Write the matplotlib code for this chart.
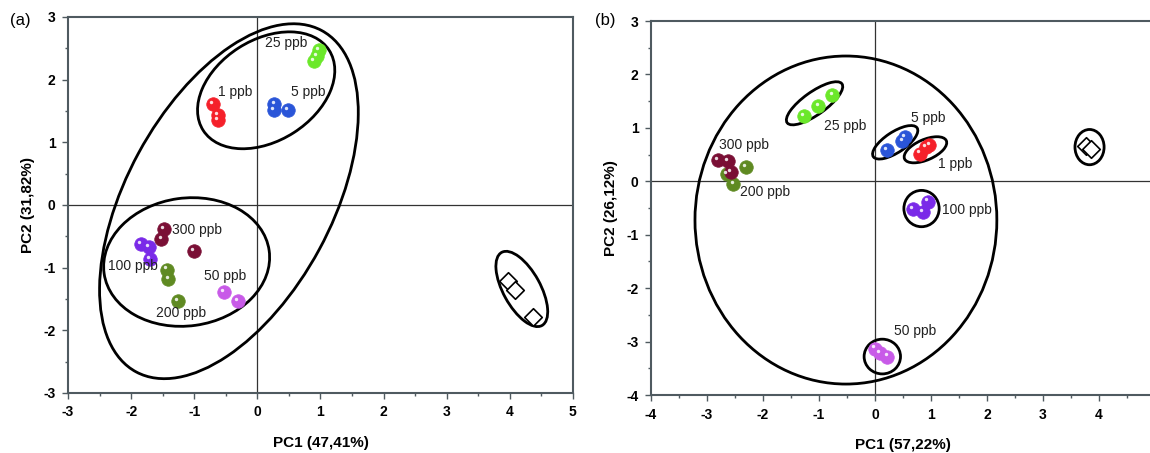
import numpy as np
import matplotlib
matplotlib.use("Agg")
import matplotlib.pyplot as plt
from matplotlib.patches import Ellipse
from matplotlib.ticker import MultipleLocator, FixedLocator
import matplotlib.transforms as mtrans

plt.rcParams['font.family'] = ['Liberation Sans', 'DejaVu Sans']
plt.rcParams['axes.unicode_minus'] = False

groups = ["1 ppb", "5 ppb", "25 ppb", "50 ppb", "100 ppb", "200 ppb", "300 ppb"]
colors = {"1 ppb": "#f5202a", "5 ppb": "#2a55d8", "25 ppb": "#6be82a", "50 ppb": "#c85ae8",
          "100 ppb": "#7a2ae8", "200 ppb": "#5f8a22", "300 ppb": "#7a0f35"}

# panel (a) scores
a_x = {"1 ppb": [-0.71, -0.62, -0.63], "5 ppb": [0.27, 0.26, 0.49], "25 ppb": [0.98, 0.94, 0.89],
       "50 ppb": [-0.53, -0.31], "100 ppb": [-1.84, -1.72, -1.70], "200 ppb": [-1.43, -1.41, -1.26],
       "300 ppb": [-1.48, -1.52, -1.00]}
a_y = {"1 ppb": [1.61, 1.44, 1.36], "5 ppb": [1.61, 1.51, 1.52], "25 ppb": [2.47, 2.37, 2.30],
       "50 ppb": [-1.39, -1.54], "100 ppb": [-0.62, -0.67, -0.86], "200 ppb": [-1.03, -1.18, -1.54],
       "300 ppb": [-0.38, -0.54, -0.74]}
a_blank_x = [3.97, 4.09, 4.37]
a_blank_y = [-1.21, -1.35, -1.79]
a_labels = {"25 ppb": (0.12, 2.59), "1 ppb": (-0.62, 1.80), "5 ppb": (0.54, 1.81), "300 ppb": (-1.35, -0.40),
            "100 ppb": (-2.36, -0.98), "50 ppb": (-0.85, -1.13), "200 ppb": (-1.60, -1.73)}
# (cx, cy, width, height, angle)
a_ellipses = [(-0.45, 0.06, 6.19, 3.25, 61.7), (0.14, 1.83, 2.37, 1.61, 32.8),
              (-1.12, -0.91, 2.64, 2.04, 8), (4.19, -1.34, 1.33, 0.59, -61.4)]
a_xticks = [-3, -2, -1, 0, 1, 2, 3, 4, 5]

# panel (b) scores
b_x = {"1 ppb": [0.80, 0.91, 0.97], "5 ppb": [0.21, 0.49, 0.54], "25 ppb": [-1.27, -1.01, -0.76],
       "50 ppb": [0.00, 0.09, 0.22], "100 ppb": [0.67, 0.85, 0.95], "200 ppb": [-2.30, -2.64, -2.53],
       "300 ppb": [-2.80, -2.62, -2.58]}
b_y = {"1 ppb": [0.52, 0.64, 0.68], "5 ppb": [0.58, 0.75, 0.83], "25 ppb": [1.22, 1.41, 1.61],
       "50 ppb": [-3.13, -3.21, -3.28], "100 ppb": [-0.52, -0.58, -0.38], "200 ppb": [0.27, 0.13, -0.05],
       "300 ppb": [0.39, 0.38, 0.17]}
b_blank_x = [3.76, 3.86]
b_blank_y = [0.66, 0.60]
b_labels = {"25 ppb": (-0.91, 1.03), "5 ppb": (0.65, 1.19), "1 ppb": (1.12, 0.33), "300 ppb": (-2.78, 0.675),
            "200 ppb": (-2.42, -0.20), "100 ppb": (1.19, -0.54), "50 ppb": (0.34, -2.80)}
b_ellipses = [(-0.52, -0.725, 5.39, 6.14, 0), (-1.08, 1.46, 1.22, 0.42, 37), (0.36, 0.73, 0.95, 0.38, 35),
              (0.90, 0.59, 0.82, 0.38, 25), (0.83, -0.51, 0.63, 0.68, 0), (0.13, -3.28, 0.65, 0.65, 0),
              (3.83, 0.64, 0.52, 0.66, 0)]
b_xticks = [-4, -3, -2, -1, 0, 1, 2, 3, 4]

fig = plt.figure(figsize=(11.5, 4.53), dpi=100)
axA = fig.add_axes([0.0591, 0.1325, 0.4391, 0.830])
axB = fig.add_axes([0.5661, 0.128, 0.4383, 0.8256])
spine_c = "#4f5a60"


def draw(ax, xs, ys, bx, by, labels, ellipses, xticks, xlim, ylim, xlabel, ylabel):
    ax.set_xlim(*xlim); ax.set_ylim(*ylim)
    ax.axhline(0, color="#333333", lw=0.9, zorder=1)
    ax.axvline(0, color="#333333", lw=0.9, zorder=1)
    hl = mtrans.offset_copy(ax.transData, fig=fig, x=-1.3, y=1.6, units="points")
    for g in groups:
        ax.scatter(xs[g], ys[g], s=95, color=colors[g], edgecolors=colors[g], linewidths=0.5, zorder=3)
        ax.scatter(xs[g], ys[g], s=6, color="white", alpha=0.85, linewidths=0, zorder=4, transform=hl)
    ax.scatter(bx, by, s=80, marker="D", facecolors="white", edgecolors="black", linewidths=1.2, zorder=3)
    for g, (tx, ty) in labels.items():
        ax.text(tx, ty, g, fontsize=10, color="#222222", va="center", ha="left", zorder=5)
    for cx, cy, w, h, ang in ellipses:
        ax.add_patch(Ellipse((cx, cy), w, h, angle=ang, fill=False, ec="black", lw=2.0, zorder=2))
    ax.xaxis.set_major_locator(FixedLocator(xticks)); ax.xaxis.set_minor_locator(MultipleLocator(0.5))
    ax.yaxis.set_major_locator(MultipleLocator(1)); ax.yaxis.set_minor_locator(MultipleLocator(0.5))
    ax.tick_params(which="major", direction="out", length=4, width=1, color=spine_c, labelsize=10, pad=5)
    ax.tick_params(which="minor", direction="out", length=2.5, width=1, color=spine_c)
    for lab in ax.get_xticklabels() + ax.get_yticklabels():
        lab.set_fontweight("bold")
    for s in ax.spines.values():
        s.set_color(spine_c); s.set_linewidth(1.5)
    ax.set_xlabel(xlabel, fontsize=11, fontweight="bold", labelpad=12)
    ax.set_ylabel(ylabel, fontsize=11, fontweight="bold", labelpad=6)


draw(axA, a_x, a_y, a_blank_x, a_blank_y, a_labels, a_ellipses, a_xticks, (-3, 5), (-3, 3),
     "PC1 (47,41%)", "PC2 (31,82%)")
draw(axB, b_x, b_y, b_blank_x, b_blank_y, b_labels, b_ellipses, b_xticks, (-4, 5), (-4, 3),
     "PC1 (57,22%)", "PC2 (26,12%)")

fig.text(0.009, 0.955, "(a)", fontsize=12, va="center")
fig.text(0.517, 0.955, "(b)", fontsize=12, va="center")

fig.savefig("out.png", dpi=100)
